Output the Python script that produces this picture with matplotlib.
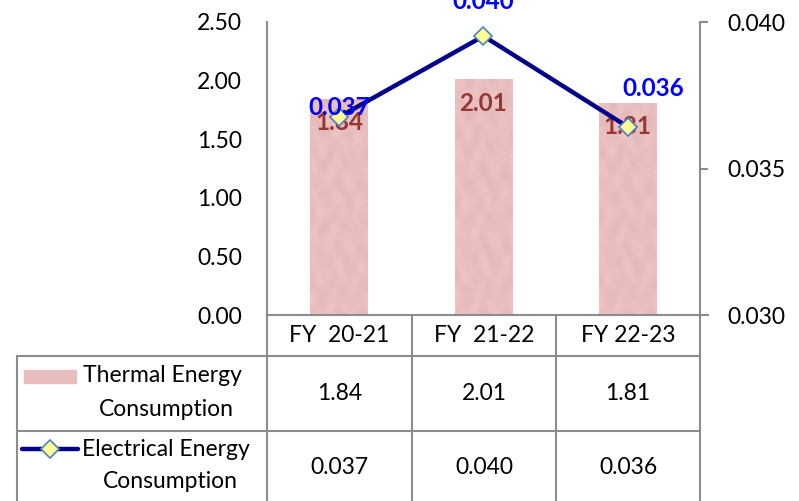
import numpy as np
import matplotlib
matplotlib.use("Agg")
import matplotlib.pyplot as plt
from matplotlib.patches import Rectangle
from matplotlib.lines import Line2D

plt.rcParams['font.family'] = ['Lato', 'DejaVu Sans']

years = ['FY  20-21', 'FY  21-22', 'FY 22-23']
thermal = [1.84, 2.01, 1.81]
electrical = [0.03676, 0.03952, 0.03642]
thermal_name = ['Thermal Energy', 'Consumption']
electrical_name = ['Electrical Energy', 'Consumption']

bar_color = '#E8BDBD'
line_color = '#00008B'
grid_gray = '#8C8C8C'
fs = 16.5
fs_bold = 17.5


def pink_texture(h, w):
    # soft mottled pink fill for the bars
    yy, xx = np.mgrid[0:h, 0:w]
    n = (np.sin(xx * 0.31 + np.sin(yy * 0.09) * 2.0)
         + np.sin(yy * 0.17 + np.cos(xx * 0.23) * 1.7)
         + 0.6 * np.sin(xx * 0.53 * np.cos(yy * 0.05) + yy * 0.11 + 2.1))
    n = n / np.abs(n).max()
    base = np.array([232, 190, 190]) / 255
    img = base[None, None, :] + 0.022 * n[..., None]
    return np.clip(img, 0, 1)


W, H = 799, 501
fig = plt.figure(figsize=(W / 100, H / 100), dpi=100)

# plot area in pixel terms
x0, x1, y0, y1 = 267, 700, 315, 22
ax = fig.add_axes([x0 / W, 1 - y0 / H, (x1 - x0) / W, (y0 - y1) / H])
x = np.arange(len(years))
bw = 0.40
bars = ax.bar(x, thermal, width=bw, color=bar_color, zorder=2)
tex = pink_texture(240, 60)
for b, xi, v in zip(bars, x, thermal):
    im = ax.imshow(tex, extent=[xi - bw / 2, xi + bw / 2, 0, v], aspect='auto',
                   zorder=2.1, interpolation='bilinear')
    im.set_clip_path(b)
ax.set_xlim(-0.5, len(years) - 0.5)
ax.set_ylim(0, 2.5)
ax.set_yticks(np.arange(0, 2.51, 0.5))
ax.set_yticklabels([f'{v:.2f}' for v in np.arange(0, 2.51, 0.5)], fontsize=fs)
ax.tick_params(axis='y', length=0, pad=18)
ax.set_xticks([])
for s in ['top', 'right']:
    ax.spines[s].set_visible(False)
for s in ['left', 'bottom']:
    ax.spines[s].set_color(grid_gray)
    ax.spines[s].set_linewidth(1.5)

for xi, v in zip(x, thermal):
    ax.annotate(f'{v:.2f}', (xi, v), xytext=(0, -17), textcoords='offset points',
                ha='center', va='center', color='#953735', fontsize=fs_bold,
                fontweight='bold', zorder=5)

ax2 = ax.twinx()
ax2.plot(x, electrical, color=line_color, lw=3.2, marker='D', ms=9,
         mfc='#FFFF99', mec='#4F81BD', mew=1.2, zorder=4)
ax2.set_ylim(0.030, 0.040)
ax2.set_yticks([0.030, 0.035, 0.040])
ax2.set_yticklabels(['0.030', '0.035', '0.040'], fontsize=fs)
ax2.tick_params(axis='y', length=6, width=1.5, color=grid_gray, pad=14)
for s in ['top', 'left', 'bottom']:
    ax2.spines[s].set_visible(False)
ax2.spines['right'].set_color(grid_gray)
ax2.spines['right'].set_linewidth(1.5)

label_offsets = [(0, 7), (0, 25), (18, 28)]
for xi, v, off in zip(x, electrical, label_offsets):
    ax2.annotate(f'{v:.3f}', (xi, v), xytext=off, textcoords='offset points',
                 ha='center', va='center', color='#0000FF', fontsize=fs_bold,
                 fontweight='bold', zorder=6, annotation_clip=False)

# data table drawn in pixel coordinates over the whole figure
ov = fig.add_axes([0, 0, 1, 1], zorder=-1)
ov.set_xlim(0, W)
ov.set_ylim(H, 0)
ov.axis('off')

cols = [267, 412, 556, 700]
rows = [315, 356, 431]
lw = 1.5
for cx in cols:
    ov.plot([cx, cx], [rows[0], H], color=grid_gray, lw=lw)
ov.plot([17, 17], [rows[1], H], color=grid_gray, lw=lw)
ov.plot([17, 700], [rows[1], rows[1]], color=grid_gray, lw=lw)
ov.plot([17, 700], [rows[2], rows[2]], color=grid_gray, lw=lw)
ov.plot([700, 708], [315, 315], color=grid_gray, lw=lw)

for i, name in enumerate(years):
    cx = (cols[i] + cols[i + 1]) / 2
    ov.text(cx, 336, name, ha='center', va='center', fontsize=fs)
    ov.text(cx, 393, f'{thermal[i]:.2f}', ha='center', va='center', fontsize=fs)
    ov.text(cx, 467, f'{electrical[i]:.3f}', ha='center', va='center', fontsize=fs)

# legend keys in the row headers
ov.add_patch(Rectangle((24, 370), 52, 13, color=bar_color))
ov.text(83, 376, thermal_name[0], ha='left', va='center', fontsize=fs)
ov.text(166, 409, thermal_name[1], ha='center', va='center', fontsize=fs)
ov.add_line(Line2D([22, 78], [449, 449], color=line_color, lw=3.2,
                   solid_capstyle='round'))
ov.plot([50], [449], marker='D', ms=9, mfc='#FFFF99', mec='#4F81BD', mew=1.2)
ov.text(82, 450, electrical_name[0], ha='left', va='center', fontsize=fs)
ov.text(170, 481, electrical_name[1], ha='center', va='center', fontsize=fs)

fig.savefig('out.png', dpi=100)
